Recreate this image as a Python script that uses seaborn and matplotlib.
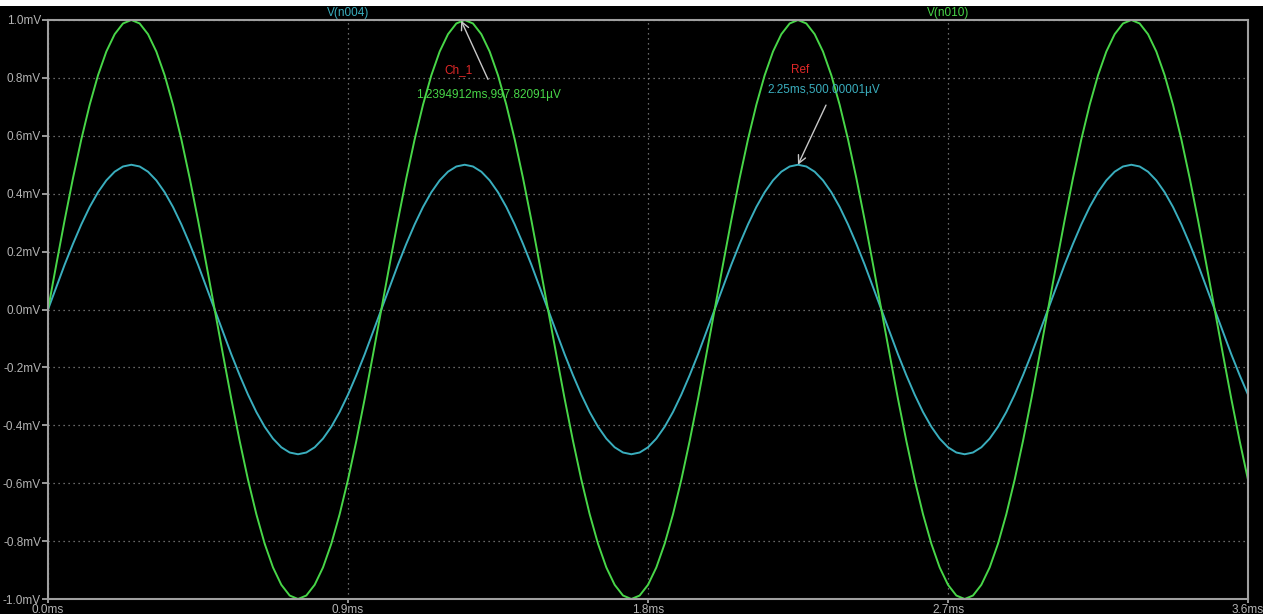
import numpy as np
import pandas as pd
import matplotlib
matplotlib.use("Agg")
import matplotlib.pyplot as plt
from matplotlib.patches import Rectangle
import seaborn as sns

# ---------------- data (mV), sampled every 0.025 ms from 0.0 ms to 3.6 ms ----------------
sample_step_ms = 0.025

v_n010 = [  # green trace
    0.000, 0.156, 0.309, 0.454, 0.588, 0.707, 0.809, 0.891, 0.951, 0.988,
    1.000, 0.988, 0.951, 0.891, 0.809, 0.707, 0.588, 0.454, 0.309, 0.156,
    0.000, -0.156, -0.309, -0.454, -0.588, -0.707, -0.809, -0.891, -0.951, -0.988,
    -1.000, -0.988, -0.951, -0.891, -0.809, -0.707, -0.588, -0.454, -0.309, -0.156,
    0.000, 0.156, 0.309, 0.454, 0.588, 0.707, 0.809, 0.891, 0.951, 0.988,
    1.000, 0.988, 0.951, 0.891, 0.809, 0.707, 0.588, 0.454, 0.309, 0.156,
    0.000, -0.156, -0.309, -0.454, -0.588, -0.707, -0.809, -0.891, -0.951, -0.988,
    -1.000, -0.988, -0.951, -0.891, -0.809, -0.707, -0.588, -0.454, -0.309, -0.156,
    0.000, 0.156, 0.309, 0.454, 0.588, 0.707, 0.809, 0.891, 0.951, 0.988,
    1.000, 0.988, 0.951, 0.891, 0.809, 0.707, 0.588, 0.454, 0.309, 0.156,
    0.000, -0.156, -0.309, -0.454, -0.588, -0.707, -0.809, -0.891, -0.951, -0.988,
    -1.000, -0.988, -0.951, -0.891, -0.809, -0.707, -0.588, -0.454, -0.309, -0.156,
    0.000, 0.156, 0.309, 0.454, 0.588, 0.707, 0.809, 0.891, 0.951, 0.988,
    1.000, 0.988, 0.951, 0.891, 0.809, 0.707, 0.588, 0.454, 0.309, 0.156,
    0.000, -0.156, -0.309, -0.454, -0.588,
]

v_n004 = [  # cyan trace
    0.000, 0.078, 0.155, 0.227, 0.294, 0.354, 0.405, 0.446, 0.476, 0.494,
    0.500, 0.494, 0.476, 0.446, 0.405, 0.354, 0.294, 0.227, 0.155, 0.078,
    0.000, -0.078, -0.155, -0.227, -0.294, -0.354, -0.405, -0.446, -0.476, -0.494,
    -0.500, -0.494, -0.476, -0.446, -0.405, -0.354, -0.294, -0.227, -0.155, -0.078,
    0.000, 0.078, 0.155, 0.227, 0.294, 0.354, 0.405, 0.446, 0.476, 0.494,
    0.500, 0.494, 0.476, 0.446, 0.405, 0.354, 0.294, 0.227, 0.155, 0.078,
    0.000, -0.078, -0.155, -0.227, -0.294, -0.354, -0.405, -0.446, -0.476, -0.494,
    -0.500, -0.494, -0.476, -0.446, -0.405, -0.354, -0.294, -0.227, -0.155, -0.078,
    0.000, 0.078, 0.155, 0.227, 0.294, 0.354, 0.405, 0.446, 0.476, 0.494,
    0.500, 0.494, 0.476, 0.446, 0.405, 0.354, 0.294, 0.227, 0.155, 0.078,
    0.000, -0.078, -0.155, -0.227, -0.294, -0.354, -0.405, -0.446, -0.476, -0.494,
    -0.500, -0.494, -0.476, -0.446, -0.405, -0.354, -0.294, -0.227, -0.155, -0.078,
    0.000, 0.078, 0.155, 0.227, 0.294, 0.354, 0.405, 0.446, 0.476, 0.494,
    0.500, 0.494, 0.476, 0.446, 0.405, 0.354, 0.294, 0.227, 0.155, 0.078,
    0.000, -0.078, -0.155, -0.227, -0.294,
]

trace_names = ["V(n004)", "V(n010)"]
trace_colors = ["#3aaebe", "#48d648"]
x_ticks = [0.0, 0.9, 1.8, 2.7, 3.6]
x_tick_labels = ["0.0ms", "0.9ms", "1.8ms", "2.7ms", "3.6ms"]
y_ticks = [-1.0, -0.8, -0.6, -0.4, -0.2, 0.0, 0.2, 0.4, 0.6, 0.8, 1.0]
y_tick_labels = ["-1.0mV", "-0.8mV", "-0.6mV", "-0.4mV", "-0.2mV", "0.0mV",
                 "0.2mV", "0.4mV", "0.6mV", "0.8mV", "1.0mV"]

cursor1_label = "Ch_1"
cursor1_point = (1.2394912, 0.99782091)
cursor1_text = "1.2394912ms,997.82091µV"
cursor2_label = "Ref"
cursor2_point = (2.25, 0.50000001)
cursor2_text = "2.25ms,500.00001µV"

# ---------------- build long-form table ----------------
time_ms = np.arange(len(v_n010)) * sample_step_ms
df = pd.DataFrame({
    "time": np.concatenate([time_ms, time_ms]),
    "value": np.concatenate([v_n004, v_n010]),
    "trace": [trace_names[0]] * len(v_n004) + [trace_names[1]] * len(v_n010),
})

# ---------------- style ----------------
sns.set_theme(style="dark", rc={
    "figure.facecolor": "black",
    "axes.facecolor": "black",
    "axes.edgecolor": "#a0a0a0",
    "grid.color": "#808080",
})
plt.rcParams["font.family"] = ["Liberation Sans", "DejaVu Sans"]

fig = plt.figure(figsize=(12.63, 6.14), dpi=100)
fig.patch.set_facecolor("black")
fig.patches.append(Rectangle((0, 1 - 6 / 614), 1, 6 / 614, transform=fig.transFigure,
                             facecolor="white", edgecolor="none", zorder=-1))
ax = fig.add_axes([48 / 1263, 1 - 599 / 614, 1200 / 1263, 579 / 614])

sns.lineplot(data=df, x="time", y="value", hue="trace", hue_order=trace_names,
             palette=dict(zip(trace_names, trace_colors)), linewidth=1.4,
             legend=False, ax=ax, sort=False)

ax.set_xlim(0, 3.6)
ax.set_ylim(-1.0, 1.0)
ax.set_xticks(x_ticks)
ax.set_xticklabels(x_tick_labels)
ax.set_yticks(y_ticks)
ax.set_yticklabels(y_tick_labels)
ax.set_xlabel("")
ax.set_ylabel("")
ax.grid(True, color="#8a8a8a", linestyle=(0, (1, 3)), linewidth=0.9)
ax.tick_params(axis="both", colors="#b4b4b4", labelsize=8.5, width=1.2,
               direction="out", left=True, bottom=True)
ax.tick_params(axis="x", length=3, pad=0.3)
ax.tick_params(axis="y", length=4, pad=1)
for sp in ax.spines.values():
    sp.set_visible(True)
    sp.set_color("#a0a0a0")
    sp.set_linewidth(1.5)

# trace labels above the plot
for name, color, xpos in zip(trace_names, trace_colors, [0.9, 2.7]):
    ax.annotate(name, xy=(xpos, 1.0), xycoords=("data", "axes fraction"),
                xytext=(0, 5), textcoords="offset points", ha="center", va="center",
                color=color, fontsize=8.5, annotation_clip=False)

# cursor annotations
arrow_kw = dict(arrowstyle="->", color="#c8c8c8", lw=1.0, shrinkA=0, shrinkB=0,
                mutation_scale=14)
ax.text(1.23, 0.827, cursor1_label, color="#e02828", fontsize=8.5, ha="center", va="center")
ax.text(1.32, 0.741, cursor1_text, color=trace_colors[1], fontsize=8.5, ha="center", va="center")
ax.annotate("", xy=cursor1_point, xytext=(1.32, 0.795), arrowprops=arrow_kw)

ax.text(2.256, 0.827, cursor2_label, color="#e02828", fontsize=8.5, ha="center", va="center")
ax.text(2.328, 0.758, cursor2_text, color=trace_colors[0], fontsize=8.5, ha="center", va="center")
ax.annotate("", xy=cursor2_point, xytext=(2.334, 0.706), arrowprops=arrow_kw)

fig.savefig("out.png", dpi=100, facecolor="black")
